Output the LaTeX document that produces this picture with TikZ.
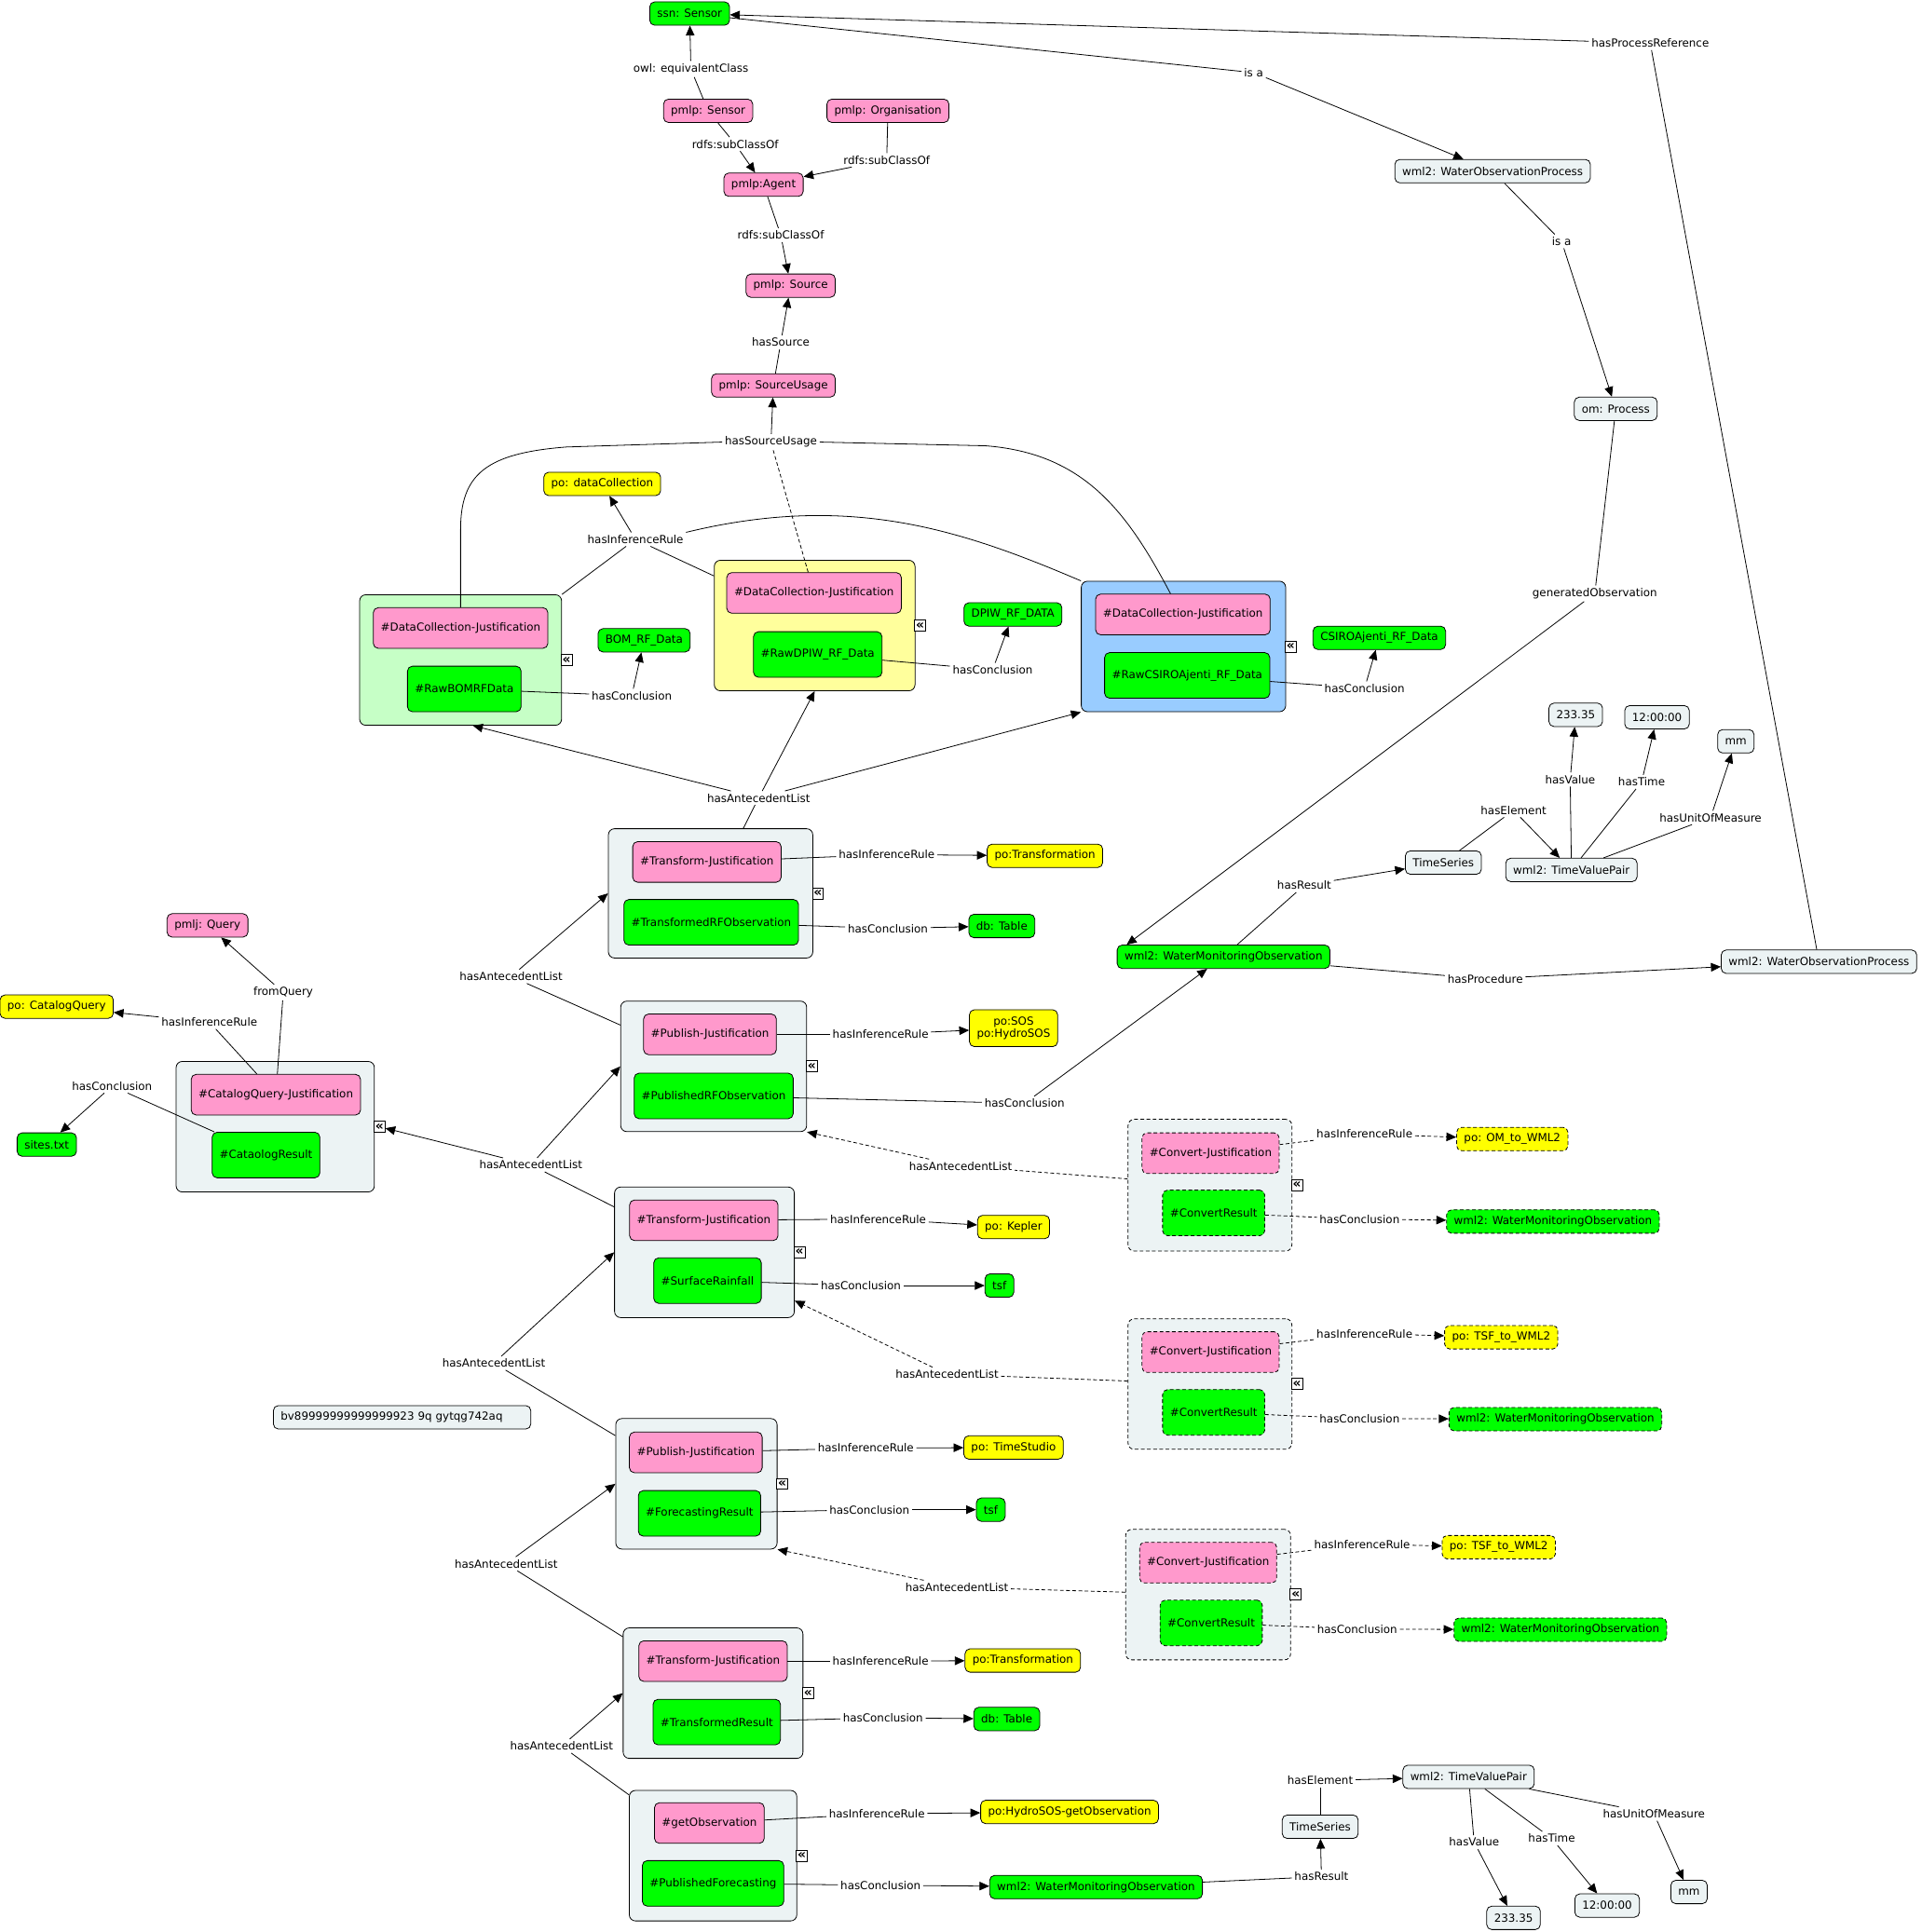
\documentclass[tikz,border=0pt]{standalone}
\usepackage{fontspec}
\setmainfont{DejaVu Sans}
\usetikzlibrary{arrows.meta}

\definecolor{cmPink}{HTML}{FF99CC}
\definecolor{cmGreen}{HTML}{00FF00}
\definecolor{cmYellow}{HTML}{FFFF00}
\definecolor{cmGrey}{HTML}{ECF3F4}
\definecolor{grpGreen}{HTML}{C6FFC6}
\definecolor{grpYellow}{HTML}{FFFF9C}
\definecolor{grpBlue}{HTML}{99CCFF}

\newcommand{\cmfont}{\fontsize{9}{10.5}\selectfont}
\newcommand{\icofont}{\fontsize{10.5}{10.5}\selectfont\bfseries}

\tikzset{
  concept/.style={draw, rounded corners=4pt, line width=0.6pt, font=\cmfont,
    inner xsep=6pt, inner ysep=2pt, minimum height=19pt},
  pinkc/.style={concept, fill=cmPink},
  greenc/.style={concept, fill=cmGreen},
  yellowc/.style={concept, fill=cmYellow},
  greyc/.style={concept, fill=cmGrey},
  jrule/.style={pinkc, minimum height=33pt},
  jconc/.style={greenc, minimum height=37pt},
  grp/.style={draw, rounded corners=5pt, line width=0.6pt, fill=cmGrey},
  dashbox/.style={dash pattern=on 3pt off 2pt},
  colicon/.style={draw, fill=white, line width=0.6pt, inner sep=0pt,
    minimum size=9pt, font=\icofont, anchor=west, xshift=-1pt},
  lbl/.style={font=\cmfont, inner sep=2pt},
  link/.style={line width=0.6pt},
  arr/.style={link, -{Triangle[length=8pt,width=7pt]}},
  dlink/.style={link, dash pattern=on 3pt off 2pt},
  darr/.style={arr, dash pattern=on 3pt off 2pt},
}

\begin{document}
\begin{tikzpicture}[x=1pt,y=-1pt]
	\useasboundingbox (0,0) rectangle (1560,1569);

	%Concepts: provenance ontology (top)
	\node[greenc] (ssnSensor) at (560,11) {ssn: Sensor};
	\node[pinkc] (pmlpSensor) at (575,90) {pmlp: Sensor};
	\node[pinkc] (pmlpOrg) at (721,90) {pmlp: Organisation};
	\node[pinkc] (pmlpAgent) at (620,150) {pmlp:Agent};
	\node[pinkc] (pmlpSource) at (642,232) {pmlp: Source};
	\node[pinkc] (pmlpUsage) at (628,313) {pmlp: SourceUsage};
	\node[greyc] (wopTop) at (1212,139) {wml2: WaterObservationProcess};
	\node[greyc] (omProcess) at (1312,332) {om: Process};

	%Groups: justifications
	\node[grp, fill=grpGreen, minimum width=164pt, minimum height=106pt] (bomBox) at (374,536) {};
	\node[grp, fill=grpYellow, minimum width=163pt, minimum height=106pt] (dpiwBox) at (661.5,508) {};
	\node[grp, fill=grpBlue, minimum width=166pt, minimum height=106pt] (csiroBox) at (961,525) {};
	\node[grp, minimum width=166pt, minimum height=105pt] (tj1Box) at (577,725.5) {};
	\node[grp, minimum width=151pt, minimum height=106pt] (pj1Box) at (579.5,866) {};
	\node[grp, minimum width=161pt, minimum height=106pt] (cqBox) at (223.5,915) {};
	\node[grp, minimum width=146pt, minimum height=106pt] (tj2Box) at (572,1017) {};
	\node[grp, minimum width=131pt, minimum height=106pt] (pj2Box) at (565.5,1205) {};
	\node[grp, minimum width=146pt, minimum height=106pt] (tj3Box) at (579,1375) {};
	\node[grp, minimum width=136pt, minimum height=106pt] (goBox) at (579,1507) {};
	\node[grp, dashbox, minimum width=133pt, minimum height=107pt] (cv1Box) at (982.5,962.5) {};
	\node[grp, dashbox, minimum width=133pt, minimum height=106pt] (cv2Box) at (982.5,1124) {};
	\node[grp, dashbox, minimum width=134pt, minimum height=106pt] (cv3Box) at (981,1295) {};

	%Collapse icons
	\node[colicon] (bomIcon) at (bomBox.east) {«};
	\node[colicon] (dpiwIcon) at (dpiwBox.east) {«};
	\node[colicon] (csiroIcon) at (csiroBox.east) {«};
	\node[colicon] (tj1Icon) at (tj1Box.east) {«};
	\node[colicon] (pj1Icon) at (pj1Box.east) {«};
	\node[colicon] (cqIcon) at (cqBox.east) {«};
	\node[colicon] (tj2Icon) at (tj2Box.east) {«};
	\node[colicon] (pj2Icon) at (pj2Box.east) {«};
	\node[colicon] (tj3Icon) at (tj3Box.east) {«};
	\node[colicon] (goIcon) at (goBox.east) {«};
	\node[colicon] (cv1Icon) at (cv1Box.east) {«};
	\node[colicon] (cv2Icon) at (cv2Box.east) {«};
	\node[colicon] (cv3Icon) at (cv3Box.east) {«};

	%Group contents
	\node[jrule] (bomDC) at (374,510) {\#DataCollection-Justification};
	\node[jconc] (bomRaw) at (377,559.5) {\#RawBOMRFData};
	\node[jrule] (dpiwDC) at (661,481.5) {\#DataCollection-Justification};
	\node[jconc] (dpiwRaw) at (664,531.5) {\#RawDPIW\_RF\_Data};
	\node[jrule] (csiroDC) at (960.5,499) {\#DataCollection-Justification};
	\node[jconc] (csiroRaw) at (964,548.5) {\#RawCSIROAjenti\_RF\_Data};
	\node[jrule] (tj1Rule) at (574,700) {\#Transform-Justification};
	\node[jconc] (tj1Conc) at (577.5,749) {\#TransformedRFObservation};
	\node[jrule] (pj1Rule) at (576.5,840) {\#Publish-Justification};
	\node[jconc] (pj1Conc) at (579.5,890) {\#PublishedRFObservation};
	\node[jrule] (cqRule) at (224,889) {\#CatalogQuery-Justification};
	\node[jconc] (cqConc) at (216,938) {\#CataologResult};
	\node[jrule] (tj2Rule) at (571.5,991) {\#Transform-Justification};
	\node[jconc] (tj2Conc) at (574.5,1040) {\#SurfaceRainfall};
	\node[jrule] (pj2Rule) at (565,1179.5) {\#Publish-Justification};
	\node[jconc] (pj2Conc) at (568,1229) {\#ForecastingResult};
	\node[jrule] (tj3Rule) at (579,1349) {\#Transform-Justification};
	\node[jconc] (tj3Conc) at (582,1398.5) {\#TransformedResult};
	\node[jrule] (goRule) at (576,1480.5) {\#getObservation};
	\node[jconc] (goConc) at (579,1529.5) {\#PublishedForecasting};
	\node[jrule, dashbox] (cv1Rule) at (983,936.5) {\#Convert-Justification};
	\node[jconc, dashbox] (cv1Conc) at (985.5,985) {\#ConvertResult};
	\node[jrule, dashbox] (cv2Rule) at (983,1098) {\#Convert-Justification};
	\node[jconc, dashbox] (cv2Conc) at (985.5,1147) {\#ConvertResult};
	\node[jrule, dashbox] (cv3Rule) at (981,1269) {\#Convert-Justification};
	\node[jconc, dashbox] (cv3Conc) at (983.5,1318) {\#ConvertResult};

	%Concepts: rules and conclusions
	\node[yellowc] (poDataColl) at (489,393) {po: dataCollection};
	\node[greenc] (bomRF) at (523,520) {BOM\_RF\_Data};
	\node[greenc] (dpiwRF) at (822.5,499) {DPIW\_RF\_DATA};
	\node[greenc] (csiroRF) at (1120,518) {CSIROAjenti\_RF\_Data};
	\node[yellowc] (poTrans1) at (848.5,695) {po:Transformation};
	\node[greenc] (dbTable1) at (813.5,752) {db: Table};
	\node[yellowc, align=center, minimum height=30pt] (poSOS) at (823,835) {po:SOS\\po:HydroSOS};
	\node[pinkc] (pmljQuery) at (168.5,751.5) {pmlj: Query};
	\node[yellowc] (poCatalog) at (46,817.5) {po: CatalogQuery};
	\node[greenc] (sitesTxt) at (38,929.5) {sites.txt};
	\node[yellowc] (poKepler) at (823,996.5) {po: Kepler};
	\node[greenc] (tsf1) at (811.5,1044) {tsf};
	\node[yellowc] (poTimeStudio) at (823,1175.5) {po: TimeStudio};
	\node[greenc] (tsf2) at (804.5,1226) {tsf};
	\node[yellowc] (poTrans2) at (830.5,1348.5) {po:Transformation};
	\node[greenc] (dbTable2) at (817.5,1396) {db: Table};
	\node[yellowc] (poHydroGet) at (868.5,1471.5) {po:HydroSOS-getObservation};
	\node[yellowc, dashbox] (poOM) at (1228,925) {po: OM\_to\_WML2};
	\node[greenc, dashbox] (wmoCv1) at (1261,992) {wml2: WaterMonitoringObservation};
	\node[yellowc, dashbox] (poTSF1) at (1219,1086) {po: TSF\_to\_WML2};
	\node[greenc, dashbox] (wmoCv2) at (1263,1152.5) {wml2: WaterMonitoringObservation};
	\node[yellowc, dashbox] (poTSF2) at (1217,1256.5) {po: TSF\_to\_WML2};
	\node[greenc, dashbox] (wmoCv3) at (1267,1323.5) {wml2: WaterMonitoringObservation};
	\node[greyc, text width=197pt, align=left] (bvNote) at (326.5,1151) {bv89999999999999923 9q gytqg742aq};

	%Concepts: observations
	\node[greenc] (wmoMid) at (993.5,777) {wml2: WaterMonitoringObservation};
	\node[greyc] (tsMid) at (1172,700.5) {TimeSeries};
	\node[greyc] (tvpMid) at (1276,706.5) {wml2: TimeValuePair};
	\node[greyc] (valMid) at (1279.5,580.5) {233.35};
	\node[greyc] (timeMid) at (1345.5,582.5) {12:00:00};
	\node[greyc] (mmMid) at (1409.5,602) {mm};
	\node[greyc] (wopRight) at (1477,781) {wml2: WaterObservationProcess};
	\node[greenc] (wmoBot) at (890,1532.5) {wml2: WaterMonitoringObservation};
	\node[greyc] (tsBot) at (1072,1483.5) {TimeSeries};
	\node[greyc] (tvpBot) at (1192.5,1443) {wml2: TimeValuePair};
	\node[greyc] (valBot) at (1229,1557.5) {233.35};
	\node[greyc] (timeBot) at (1305,1547.5) {12:00:00};
	\node[greyc] (mmBot) at (1371.5,1536.5) {mm};

	%Linking phrases
	\node[lbl] (lEquiv) at (561,56) {owl: equivalentClass};
	\node[lbl] (lSub1) at (597,117) {rdfs:subClassOf};
	\node[lbl] (lSub2) at (720,130) {rdfs:subClassOf};
	\node[lbl] (lSub3) at (634,191) {rdfs:subClassOf};
	\node[lbl] (lHasSrc) at (634,278) {hasSource};
	\node[lbl] (lSrcUse) at (626,359) {hasSourceUsage};
	\node[lbl] (lIsA1) at (1018,59) {is a};
	\node[lbl] (lProcRef) at (1340,35) {hasProcessReference};
	\node[lbl] (lIsA2) at (1268,196) {is a};
	\node[lbl] (lGenObs) at (1295,482) {generatedObservation};
	\node[lbl] (lDCRule) at (516,438) {hasInferenceRule};
	\node[lbl] (lBOMConc) at (513,565) {hasConclusion};
	\node[lbl] (lDPIWConc) at (806,544) {hasConclusion};
	\node[lbl] (lCSIROConc) at (1108,559) {hasConclusion};
	\node[lbl] (lAnt0) at (616,648) {hasAntecedentList};
	\node[lbl] (lTJ1Rule) at (720,694) {hasInferenceRule};
	\node[lbl] (lTJ1Conc) at (721,754) {hasConclusion};
	\node[lbl] (lAnt1) at (415,793) {hasAntecedentList};
	\node[lbl] (lPJ1Rule) at (715,840) {hasInferenceRule};
	\node[lbl] (lPJ1Conc) at (832,896) {hasConclusion};
	\node[lbl] (lResMid) at (1059,719) {hasResult};
	\node[lbl] (lElemMid) at (1229,658) {hasElement};
	\node[lbl] (lValMid) at (1275,633) {hasValue};
	\node[lbl] (lTimeMid) at (1333,635) {hasTime};
	\node[lbl] (lUnitMid) at (1389,664) {hasUnitOfMeasure};
	\node[lbl] (lProcMid) at (1206,795) {hasProcedure};
	\node[lbl] (lFromQuery) at (230,806) {fromQuery};
	\node[lbl] (lCQRule) at (170,830) {hasInferenceRule};
	\node[lbl] (lCQConc) at (91,882) {hasConclusion};
	\node[lbl] (lAnt2) at (431,946) {hasAntecedentList};
	\node[lbl] (lTJ2Rule) at (713,990) {hasInferenceRule};
	\node[lbl] (lTJ2Conc) at (699,1044) {hasConclusion};
	\node[lbl] (lAnt3) at (401,1107) {hasAntecedentList};
	\node[lbl] (lPJ2Rule) at (703,1176) {hasInferenceRule};
	\node[lbl] (lPJ2Conc) at (706,1226) {hasConclusion};
	\node[lbl] (lAnt4) at (411,1270) {hasAntecedentList};
	\node[lbl] (lTJ3Rule) at (715,1349) {hasInferenceRule};
	\node[lbl] (lTJ3Conc) at (717,1395) {hasConclusion};
	\node[lbl] (lAnt5) at (456,1418) {hasAntecedentList};
	\node[lbl] (lGORule) at (712,1473) {hasInferenceRule};
	\node[lbl] (lGOConc) at (715,1531) {hasConclusion};
	\node[lbl] (lResBot) at (1073,1524) {hasResult};
	\node[lbl] (lElemBot) at (1072,1446) {hasElement};
	\node[lbl] (lValBot) at (1197,1496) {hasValue};
	\node[lbl] (lTimeBot) at (1260,1493) {hasTime};
	\node[lbl] (lUnitBot) at (1343,1473) {hasUnitOfMeasure};
	\node[lbl] (lCv1Rule) at (1108,921) {hasInferenceRule};
	\node[lbl] (lCv1Conc) at (1104,990) {hasConclusion};
	\node[lbl] (lAnt6) at (780,947) {hasAntecedentList};
	\node[lbl] (lCv2Rule) at (1108,1083) {hasInferenceRule};
	\node[lbl] (lCv2Conc) at (1104,1152) {hasConclusion};
	\node[lbl] (lAnt7) at (769,1116) {hasAntecedentList};
	\node[lbl] (lCv3Rule) at (1106,1254) {hasInferenceRule};
	\node[lbl] (lCv3Conc) at (1102,1323) {hasConclusion};
	\node[lbl] (lAnt8) at (777,1289) {hasAntecedentList};

	%Links: ontology
	\draw[link] (pmlpSensor) -- (lEquiv);
	\draw[arr] (lEquiv) -- (ssnSensor);
	\draw[link] (pmlpSensor) -- (lSub1);
	\draw[arr] (lSub1) -- (pmlpAgent);
	\draw[link] (pmlpOrg) -- (lSub2);
	\draw[arr] (lSub2) -- (pmlpAgent);
	\draw[link] (pmlpAgent) -- (lSub3);
	\draw[arr] (lSub3) -- (pmlpSource);
	\draw[link] (pmlpUsage) -- (lHasSrc);
	\draw[arr] (lHasSrc) -- (pmlpSource);
	\draw[arr] (lSrcUse) -- (pmlpUsage);
	\draw[link] (bomDC.north) -- (374,430) .. controls (374,385) and (395,368) .. (460,363) -- (lSrcUse.west);
	\draw[link] ([xshift=-10pt]csiroDC.north) .. controls (915,415) and (880,368) .. (800,362) -- (lSrcUse.east);
	\draw[dlink] (dpiwDC) -- (lSrcUse);
	\draw[link] (ssnSensor) -- (lIsA1);
	\draw[arr] (lIsA1) -- (wopTop);
	\draw[link] (wopRight) -- (lProcRef);
	\draw[arr] (lProcRef) -- (ssnSensor);
	\draw[link] (wopTop) -- (lIsA2);
	\draw[arr] (lIsA2) -- (omProcess);
	\draw[link] (omProcess) -- (lGenObs);
	\draw[arr] (lGenObs) -- ([xshift=8pt]wmoMid.north west);

	%Links: data collection
	\draw[link] (bomBox.north east) -- (lDCRule);
	\draw[link] ([yshift=-13pt]dpiwBox.north west) -- (lDCRule);
	\draw[link] (csiroBox.north west) .. controls (780,430) and (690,400) .. (lDCRule.north east);
	\draw[arr] (lDCRule) -- (poDataColl);
	\draw[link] (bomRaw) -- (lBOMConc);
	\draw[arr] (lBOMConc) -- (bomRF);
	\draw[link] (dpiwRaw) -- (lDPIWConc);
	\draw[arr] (lDPIWConc) -- (dpiwRF);
	\draw[link] (csiroRaw) -- (lCSIROConc);
	\draw[arr] (lCSIROConc) -- (csiroRF);

	%Links: antecedent chain
	\draw[link] (tj1Box) -- (lAnt0);
	\draw[arr] (lAnt0) -- ([xshift=10pt]bomBox.south);
	\draw[arr] (lAnt0) -- (dpiwBox.south);
	\draw[arr] (lAnt0) -- (csiroBox.south west);
	\draw[link] (pj1Box) -- (lAnt1);
	\draw[arr] (lAnt1) -- (tj1Box.west);
	\draw[link] (tj2Box) -- (lAnt2);
	\draw[arr] (lAnt2) -- (pj1Box.west);
	\draw[arr] (lAnt2) -- (cqIcon);
	\draw[link] (pj2Box) -- (lAnt3);
	\draw[arr] (lAnt3) -- (tj2Box.west);
	\draw[link] (tj3Box) -- (lAnt4);
	\draw[arr] (lAnt4) -- (pj2Box.west);
	\draw[link] (goBox) -- (lAnt5);
	\draw[arr] (lAnt5) -- (tj3Box.west);

	%Links: rules and conclusions
	\draw[link] (tj1Rule) -- (lTJ1Rule);
	\draw[arr] (lTJ1Rule) -- (poTrans1);
	\draw[link] (tj1Conc) -- (lTJ1Conc);
	\draw[arr] (lTJ1Conc) -- (dbTable1);
	\draw[link] (pj1Rule) -- (lPJ1Rule);
	\draw[arr] (lPJ1Rule) -- (poSOS);
	\draw[link] (pj1Conc) -- (lPJ1Conc);
	\draw[arr] (lPJ1Conc) -- (wmoMid);
	\draw[link] (cqRule) -- (lFromQuery);
	\draw[arr] (lFromQuery) -- (pmljQuery);
	\draw[link] (cqRule) -- (lCQRule);
	\draw[arr] (lCQRule) -- (poCatalog);
	\draw[link] (cqConc) -- (lCQConc);
	\draw[arr] (lCQConc) -- (sitesTxt);
	\draw[link] (tj2Rule) -- (lTJ2Rule);
	\draw[arr] (lTJ2Rule) -- (poKepler);
	\draw[link] (tj2Conc) -- (lTJ2Conc);
	\draw[arr] (lTJ2Conc) -- (tsf1);
	\draw[link] (pj2Rule) -- (lPJ2Rule);
	\draw[arr] (lPJ2Rule) -- (poTimeStudio);
	\draw[link] (pj2Conc) -- (lPJ2Conc);
	\draw[arr] (lPJ2Conc) -- (tsf2);
	\draw[link] (tj3Rule) -- (lTJ3Rule);
	\draw[arr] (lTJ3Rule) -- (poTrans2);
	\draw[link] (tj3Conc) -- (lTJ3Conc);
	\draw[arr] (lTJ3Conc) -- (dbTable2);
	\draw[link] (goRule) -- (lGORule);
	\draw[arr] (lGORule) -- (poHydroGet);
	\draw[link] (goConc) -- (lGOConc);
	\draw[arr] (lGOConc) -- (wmoBot);

	%Links: observation results
	\draw[link] (wmoMid) -- (lResMid);
	\draw[arr] (lResMid) -- (tsMid);
	\draw[link] (tsMid) -- (lElemMid);
	\draw[arr] (lElemMid) -- (tvpMid);
	\draw[link] (tvpMid) -- (lValMid);
	\draw[arr] (lValMid) -- (valMid);
	\draw[link] (tvpMid) -- (lTimeMid);
	\draw[arr] (lTimeMid) -- (timeMid);
	\draw[link] (tvpMid) -- (lUnitMid);
	\draw[arr] (lUnitMid) -- (mmMid);
	\draw[link] (wmoMid) -- (lProcMid);
	\draw[arr] (lProcMid) -- (wopRight);
	\draw[link] (wmoBot) -- (lResBot);
	\draw[arr] (lResBot) -- (tsBot);
	\draw[link] (tsBot) -- (lElemBot);
	\draw[arr] (lElemBot) -- (tvpBot);
	\draw[link] (tvpBot) -- (lValBot);
	\draw[arr] (lValBot) -- (valBot);
	\draw[link] (tvpBot) -- (lTimeBot);
	\draw[arr] (lTimeBot) -- (timeBot);
	\draw[link] (tvpBot) -- (lUnitBot);
	\draw[arr] (lUnitBot) -- (mmBot);

	%Links: conversions (dashed)
	\draw[dlink] (cv1Rule) -- (lCv1Rule);
	\draw[darr] (lCv1Rule) -- (poOM);
	\draw[dlink] (cv1Conc) -- (lCv1Conc);
	\draw[darr] (lCv1Conc) -- (wmoCv1);
	\draw[dlink] (cv1Box) -- (lAnt6);
	\draw[darr] (lAnt6) -- (pj1Box.south east);
	\draw[dlink] (cv2Rule) -- (lCv2Rule);
	\draw[darr] (lCv2Rule) -- (poTSF1);
	\draw[dlink] (cv2Conc) -- (lCv2Conc);
	\draw[darr] (lCv2Conc) -- (wmoCv2);
	\draw[dlink] (cv2Box) -- (lAnt7);
	\draw[darr] (lAnt7) -- ([yshift=14pt]tj2Box.south east);
	\draw[dlink] (cv3Rule) -- (lCv3Rule);
	\draw[darr] (lCv3Rule) -- (poTSF2);
	\draw[dlink] (cv3Conc) -- (lCv3Conc);
	\draw[darr] (lCv3Conc) -- (wmoCv3);
	\draw[dlink] (cv3Box) -- (lAnt8);
	\draw[darr] (lAnt8) -- (pj2Box.south east);

\end{tikzpicture}
\end{document}
